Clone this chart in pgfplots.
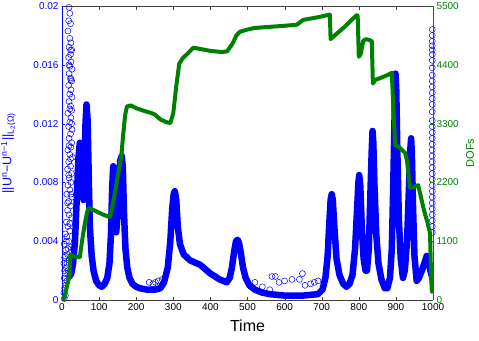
\documentclass[border=0pt]{standalone}
\usepackage{fontspec}
\setmainfont{Liberation Sans}
\usepackage{pgfplots}
\pgfplotsset{compat=1.18}
\definecolor{mblue}{RGB}{0,0,255}
\definecolor{mgreen}{RGB}{0,128,0}
\begin{document}
\begin{tikzpicture}
\begin{axis}[
  name=ax,
  scale only axis, width=371pt, height=294pt,
  xmin=0, xmax=1000, ymin=0, ymax=0.02,
  xtick={0,100,...,1000},
  xticklabels={0,100,200,300,400,500,600,700,800,900,1000},
  ytick={0,0.004,0.008,0.012,0.016,0.02},
  yticklabels={0,0.004,0.008,0.012,0.016,0.02},
  ytick pos=left, xtick pos=both,
  tick align=inside, major tick length=3.5pt,
  separate axis lines,
  x axis line style={black!75},
  y axis line style={mblue},
  ytick style={mblue}, xtick style={black!75},
  yticklabel style={text=mblue, font=\fontsize{10}{12}\selectfont},
  xticklabel style={font=\fontsize{10}{12}\selectfont},
  /pgf/number format/assume math mode=true,
  xlabel={Time},
  xlabel style={font=\fontsize{16}{18}\selectfont, at={(axis description cs:0.5,-0.055)}, anchor=north},
  ylabel={||U\textsuperscript{n}−U\textsuperscript{n−1}||\textsubscript{L\textsubscript{2}(Ω)}},
  ylabel style={text=mblue, font=\fontsize{12.5}{14}\selectfont, at={(axis description cs:-0.145,0.5)}, anchor=center},
]
\addplot[mblue, line width=6.5pt, line join=round, line cap=round] coordinates {
(20,0.0016) (25,0.0018) (30,0.0025) (35,0.004) (40,0.007) (44,0.0095) (48,0.0107) (52,0.0098) (56,0.0075) (58,0.0068) (60,0.0080) (63,0.0118) (66,0.0133) (69,0.0123) (72,0.0085) (75,0.0050) (80,0.0030) (85,0.0020) (92,0.0013) (100,0.0010) (107,0.0009) (115,0.0011) (122,0.0015) (128,0.0025) (132,0.0045) (135,0.0075) (138,0.0091) (141,0.0085) (144,0.0055) (146,0.0046) (149,0.0055) (153,0.0080) (157,0.0095) (161,0.0098) (164,0.0090) (167,0.0060) (171,0.0035) (176,0.0022) (182,0.0015) (190,0.0011) (200,0.0009) (210,0.0008) (230,0.0007) (250,0.0007) (265,0.0008) (275,0.0012) (285,0.0022) (292,0.0040) (297,0.0062) (301,0.0072) (304,0.0074) (308,0.0068) (312,0.0050) (318,0.0038) (328,0.0031) (345,0.0027) (372,0.0024) (400,0.0018) (425,0.0014) (444,0.0012) (452,0.0015) (458,0.0022) (464,0.0033) (469,0.0040) (473,0.0041) (477,0.0039) (482,0.0032) (488,0.0022) (495,0.0015) (505,0.0010) (520,0.0007) (540,0.0005) (560,0.0004) (600,0.0003) (650,0.0003) (690,0.0004) (702,0.0007) (710,0.0015) (716,0.0030) (720,0.0050) (724,0.0068) (727,0.0072) (730,0.0068) (734,0.0050) (740,0.0028) (748,0.0017) (758,0.0011) (767,0.0009) (775,0.0011) (783,0.0017) (790,0.0035) (795,0.0060) (799,0.0080) (801,0.0085) (804,0.0078) (808,0.0050) (813,0.0028) (818,0.0020) (822,0.0020) (827,0.0035) (831,0.0070) (835,0.0103) (837,0.0115) (839,0.0108) (842,0.0080) (847,0.0045) (853,0.0025) (861,0.0014) (870,0.0008) (877,0.0008) (884,0.0015) (889,0.0035) (893,0.0080) (897,0.0133) (899,0.0154) (901,0.0143) (904,0.0100) (908,0.0055) (913,0.0028) (919,0.0015) (924,0.0020) (930,0.0040) (935,0.0075) (939,0.0103) (941,0.0110) (943,0.0100) (946,0.0065) (950,0.0030) (956,0.0013) (962,0.0015) (970,0.0020) (978,0.0026) (983,0.0030) (988,0.0026) (993,0.0020) (998,0.0015)
};
\addplot[only marks, mark=o, mark size=3pt, mblue, mark options={line width=0.5pt}] coordinates {
(19,0.0199)(21,0.0195)(18,0.0190)(23,0.0188)(16,0.0183)(21,0.0178)(24,0.0175)(19,0.0172)(26,0.0170)(23,0.0167)(18,0.0165)(24,0.0162)(21,0.0159)(27,0.0157)(19,0.0154)(23,0.0151)(26,0.0149)(18,0.0146)(24,0.0143)(21,0.0140)(27,0.0138)(19,0.0135)(23,0.0132)(26,0.0129)(16,0.0127)(24,0.0124)(21,0.0121)(18,0.0118)(27,0.0116)(23,0.0113)(19,0.0110)(26,0.0107)(24,0.0104)(16,0.0102)(21,0.0099)(28,0.0097)(18,0.0094)(23,0.0091)(15,0.0089)(26,0.0086)(19,0.0083)(24,0.0080)(16,0.0078)(21,0.0075)(13,0.0072)(27,0.0070)(18,0.0067)(23,0.0064)(15,0.0061)(19,0.0058)(26,0.0056)(12,0.0053)(16,0.0050)(21,0.0047)(9,0.0045)(13,0.0043)(18,0.0040)(6,0.0038)(24,0.0036)(10,0.0034)(15,0.0031)(7,0.0029)(19,0.0027)(5,0.0025)(12,0.0022)(16,0.0020)(9,0.0018)(6,0.0015)(13,0.0013)(10,0.0010)(7,0.0008)(5,0.0005)(9,0.0003)(6,0.0001)
(23,0.0170)(19,0.0160)(24,0.0150)(21,0.0130)(26,0.0120)(19,0.0105)(23,0.0096)(18,0.0085)(24,0.0072)(15,0.0066)(21,0.0052)(12,0.0040)(16,0.0035)(9,0.0030)(13,0.0025)(7,0.0020)
(998,0.0184)(998,0.0180)(998,0.0176)(998,0.0173)(998,0.0170)(998,0.0167)(998,0.0163)(998,0.0158)(998,0.0153)(998,0.0149)(998,0.0145)(998,0.0141)(998,0.0137)(998,0.0133)(998,0.0128)(998,0.0122)(998,0.0118)(998,0.0114)(998,0.0110)(998,0.0106)(998,0.0102)(998,0.0098)(998,0.0094)(998,0.0090)(998,0.0086)(998,0.0082)(998,0.0078)(998,0.0074)(998,0.0070)(998,0.0066)(998,0.0062)(998,0.0058)(998,0.0054)(998,0.0050)(998,0.0046)
(235,0.0012)(245,0.0011)(252,0.0012)(260,0.0013)(270,0.0014)
(520,0.0012)(540,0.0009)(560,0.0007)(566,0.0016)(575,0.0016)(585,0.0012)(600,0.0013)(620,0.0014)(640,0.0014)(648,0.0018)(655,0.0010)(670,0.0011)(680,0.0012)(690,0.0013)
};
\end{axis}
\begin{axis}[
  scale only axis, width=371pt, height=294pt,
  xmin=0, xmax=1000, ymin=0, ymax=5500,
  axis x line=none, axis y line*=right,
  ytick={0,1100,2200,3300,4400,5500},
  yticklabels={0,1100,2200,3300,4400,5500},
  tick align=inside, major tick length=3.5pt,
  y axis line style={mgreen}, ytick style={mgreen},
  yticklabel style={text=mgreen, font=\fontsize{10}{12}\selectfont},
  ylabel={DOFs},
  ylabel style={text=mgreen, font=\fontsize{11}{13}\selectfont, at={(axis description cs:1.10,0.5)}, anchor=center},
]
\addplot[mgreen, line width=4pt, line join=round] coordinates {
(3,0) (8,100) (15,300) (20,450) (22,850) (30,820) (40,800) (48,800) (55,1150) (62,1450) (68,1650) (72,1720) (80,1700) (95,1650) (110,1600) (125,1560) (130,1560) (140,1900) (150,2300) (160,2700) (165,3100) (170,3450) (175,3620) (185,3640) (200,3590) (220,3540) (240,3500) (250,3470) (265,3380) (280,3330) (292,3310) (300,3500) (308,4000) (316,4420) (325,4520) (340,4620) (354,4720) (370,4700) (400,4660) (430,4640) (445,4650) (460,4800) (470,4950) (480,5020) (500,5060) (520,5090) (560,5110) (600,5130) (633,5150) (650,5240) (690,5290) (722,5340) (724,4880) (727,4900) (760,5100) (794,5330) (797,5320) (800,4550) (805,4600) (812,4850) (820,4880) (830,4860) (835,4840) (838,4050) (845,4120) (857,4150) (875,4200) (889,4250) (893,3600) (898,2900) (910,2850) (925,2750) (930,2600) (938,2100) (945,2100) (960,2150) (965,2000) (975,1700) (985,1450) (992,1250) (995,400) (997,150) (999,700)
};
\end{axis}
\pgfresetboundingbox
\path[use as bounding box] ([shift={(-62pt,-40pt)}]ax.south west) rectangle ([shift={(46pt,6pt)}]ax.north east);
\end{tikzpicture}
\end{document}
